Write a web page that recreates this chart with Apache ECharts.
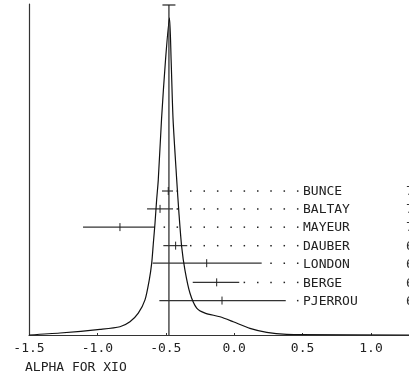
<!DOCTYPE html>
<html>
<head>
<meta charset="utf-8">
<script src="https://cdn.jsdelivr.net/npm/echarts@6/dist/echarts.min.js"></script>
<style>
  html, body { margin: 0; padding: 0; background: #fff; }
  #chart { width: 409px; height: 379px; }
</style>
</head>
<body>
<div id="chart"></div>
<script>
// density curve for alpha
var curveX = [-1.5, -1.273, -0.981, -0.835, -0.762, -0.701, -0.652, -0.621, -0.603, -0.591, -0.579, -0.567, -0.555, -0.531, -0.502, -0.473,
              -0.461, -0.447, -0.420, -0.404, -0.384, -0.360, -0.323, -0.274, -0.213, -0.104, -0.007, 0.115, 0.238, 0.384, 0.481, 1.278];
var curveY = [0, 0.6, 1.7, 2.5, 4.0, 6.6, 10.6, 16.6, 21.7, 27.7, 33.7, 40.8, 46.8, 65.3, 83.1, 95.8,
              83.1, 65.3, 46.8, 36.9, 26.7, 19.6, 12.6, 8.1, 6.6, 5.5, 4.0, 2.0, 0.8, 0.2, 0.15, 0];

// experiments
var names  = ['BUNCE', 'BALTAY', 'MAYEUR', 'DAUBER', 'LONDON', 'BERGE', 'PJERROU'];
var rowY   = [43.5, 38.1, 32.6, 27.0, 21.7, 15.9, 10.4];
var lowX   = [-0.528, -0.637, -1.105, -0.518, -0.596, -0.303, -0.547];
var midX   = [-0.482, -0.542, -0.835, -0.428, -0.201, -0.128, -0.089];
var highX  = [-0.447, -0.447, -0.579, -0.343, 0.201, 0.037, 0.377];
var yearDigit = ['7', '7', '7', '6', '6', '6', '6'];

// leader dots
var dotX = [-0.511, -0.416, -0.318, -0.219, -0.121, -0.023, 0.074, 0.172, 0.269, 0.366, 0.464];

var meanX = -0.477;
var meanTop = 99.7;
var labelX = 0.503;
var yearX = 1.256;

var xMin = -1.5, xMax = 1.278;

var mono = '"DejaVu Sans Mono", "Liberation Mono", monospace';

var curveData = [];
for (var i = 0; i < curveX.length; i++) {
    curveData.push([curveX[i], curveY[i]]);
}

var barData = [];
for (i = 0; i < names.length; i++) {
    barData.push([lowX[i], midX[i], highX[i], rowY[i], i]);
}

function renderBar(params, api) {
    var lo = api.coord([api.value(0), api.value(3)]);
    var mid = api.coord([api.value(1), api.value(3)]);
    var hi = api.coord([api.value(2), api.value(3)]);
    var idx = api.value(4);
    var y = lo[1];
    var children = [
        { type: 'line', shape: { x1: lo[0], y1: y, x2: hi[0], y2: y },
          style: { stroke: '#333', lineWidth: 1.2 } },
        { type: 'line', shape: { x1: mid[0], y1: y - 4, x2: mid[0], y2: y + 4 },
          style: { stroke: '#222', lineWidth: 1 } }
    ];
    for (var k = 0; k < dotX.length; k++) {
        if (dotX[k] > api.value(2) + 0.02) {
            var p = api.coord([dotX[k], api.value(3)]);
            children.push({ type: 'rect', shape: { x: p[0] - 0.7, y: y - 0.7, width: 1.5, height: 1.5 },
                            style: { fill: '#222' } });
        }
    }
    var lp = api.coord([labelX, api.value(3)]);
    children.push({ type: 'text', style: { text: names[idx], x: lp[0], y: y + 1, fill: '#222',
                    font: '13px ' + mono, textAlign: 'left', textVerticalAlign: 'middle' } });
    var yp = api.coord([yearX, api.value(3)]);
    children.push({ type: 'text', style: { text: yearDigit[idx], x: yp[0], y: y + 1, fill: '#333',
                    font: '13px ' + mono, textAlign: 'left', textVerticalAlign: 'middle' } });
    return { type: 'group', children: children };
}

function renderMean(params, api) {
    var b = api.coord([meanX, 0]);
    var t = api.coord([meanX, meanTop]);
    return { type: 'group', children: [
        { type: 'line', shape: { x1: b[0], y1: b[1], x2: t[0], y2: t[1] },
          style: { stroke: '#222', lineWidth: 1.2 } },
        { type: 'line', shape: { x1: t[0] - 6.5, y1: t[1], x2: t[0] + 6.5, y2: t[1] },
          style: { stroke: '#222', lineWidth: 1.2 } }
    ] };
}

var myChart = echarts.init(document.getElementById('chart'));

var option = {
    animation: false,
    backgroundColor: '#fff',
    grid: { left: 29, right: 0, top: 4, bottom: 44 },
    xAxis: {
        type: 'value',
        min: xMin,
        max: xMax,
        interval: 0.5,
        splitLine: { show: false },
        axisLine: { lineStyle: { color: '#333', width: 1.2 } },
        axisTick: { inside: true, length: 2, lineStyle: { color: '#333' } },
        axisLabel: {
            margin: 7,
            color: '#222',
            fontFamily: mono,
            fontSize: 13,
            showMaxLabel: false,
            formatter: function (v) { return v.toFixed(1); }
        }
    },
    yAxis: {
        type: 'value',
        min: 0,
        max: 100,
        splitLine: { show: false },
        axisLine: { show: true, onZero: false, lineStyle: { color: '#333', width: 1.2 } },
        axisTick: { show: false },
        axisLabel: { show: false }
    },
    graphic: [{
        type: 'text',
        left: 25,
        top: 361,
        style: { text: 'ALPHA FOR XIO', fill: '#222', font: '13px ' + mono }
    }],
    series: [{
        type: 'line',
        data: curveData,
        showSymbol: false,
        smooth: 0.25,
        lineStyle: { color: '#111', width: 1.2 }
    }, {
        type: 'custom',
        renderItem: renderMean,
        data: [[meanX, meanTop]]
    }, {
        type: 'custom',
        renderItem: renderBar,
        data: barData
    }]
};

myChart.setOption(option);
</script>
</body>
</html>
